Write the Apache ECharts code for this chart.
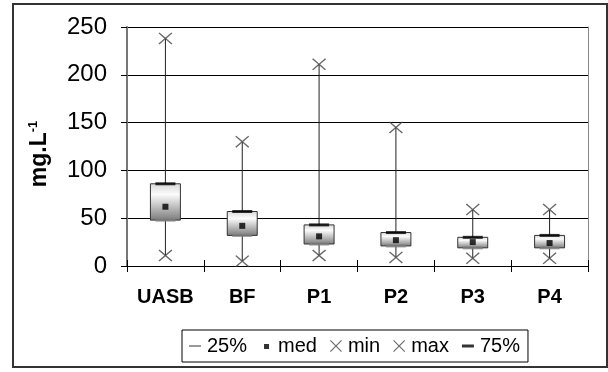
<!DOCTYPE html>
<html>
<head>
<meta charset="utf-8">
<script src="https://cdn.jsdelivr.net/npm/echarts@6/dist/echarts.min.js"></script>
<style>html,body{margin:0;padding:0;background:#fff;}#c{width:608px;height:372px;}</style>
</head>
<body>
<div id="c"></div>
<script>
var categories = ['UASB', 'BF', 'P1', 'P2', 'P3', 'P4'];
var q25 = [48, 32, 23, 21, 19, 19];
var med = [62, 42, 31, 27, 25, 24];
var mins = [11, 5, 11, 9, 8, 8];
var maxs = [238, 130, 211, 145, 59, 59];
var q75 = [86, 57, 43, 35, 30, 32];
var yTicks = [0, 50, 100, 150, 200, 250];

var FONT = 'Liberation Sans, Arial, sans-serif';
var X_PATH = 'path://M0,0.9L0.9,0L6,5.1L11.1,0L12,0.9L6.9,6L12,11.1L11.1,12L6,6.9L0.9,12L0,11.1L5.1,6Z';
function dashIcon(h) {
  var y0 = 7 - h / 2;
  return 'path://M0,0L0.01,0L0.01,0.01Z M14,14L14.01,14L14.01,14.01Z M1,' + y0 + 'L13,' + y0 + 'L13,' + (y0 + h) + 'L1,' + (y0 + h) + 'Z';
}
var SQ_ICON = 'path://M0,0L0.01,0L0.01,0.01Z M14,14L14.01,14L14.01,14.01Z M5,5L10,5L10,10L5,10Z';
var X_ICON = 'path://M0,0L0.01,0L0.01,0.01Z M14,14L14.01,14L14.01,14.01Z M1,1.8L1.8,1L7,6.2L12.2,1L13,1.8L7.8,7L13,12.2L12.2,13L7,7.8L1.8,13L1,12.2L6.2,7Z';

var boxData = categories.map(function (c, i) { return [i, q25[i], q75[i], mins[i], maxs[i]]; });

var chart = echarts.init(document.getElementById('c'), null, {renderer: 'canvas'});
chart.setOption({
  animation: false,
  backgroundColor: '#fff',
  grid: {left: 127, right: 20, top: 27, bottom: 106, containLabel: false},
  xAxis: [{
    type: 'category', data: categories, boundaryGap: true,
    axisLine: {lineStyle: {color: '#000', width: 1}},
    axisTick: {show: true, interval: 0, length: 6, lineStyle: {color: '#000'}},
    axisLabel: {interval: 0, margin: 21, color: '#000', fontFamily: FONT, fontWeight: 'bold', fontSize: 20},
    splitLine: {show: false}
  }, {
    type: 'category', data: categories, boundaryGap: true, position: 'bottom',
    axisLine: {show: false},
    axisTick: {show: true, inside: true, interval: 0, length: 6, lineStyle: {color: '#000'}},
    axisLabel: {show: false}, splitLine: {show: false}
  }],
  yAxis: [{
    type: 'value', min: 0, max: 250, interval: 50,
    axisLine: {show: true, lineStyle: {color: '#777', width: 2}},
    axisTick: {show: true, length: 6, lineStyle: {color: '#000'}},
    axisLabel: {margin: 20, color: '#000', fontFamily: FONT, fontSize: 24,
      formatter: function (v) { return yTicks.indexOf(v) >= 0 ? String(v) : ''; }},
    splitLine: {show: true, lineStyle: {color: '#000', width: 1}}
  }, {
    type: 'value', min: 0, max: 250, interval: 50, position: 'right',
    axisLine: {show: true, lineStyle: {color: '#888', width: 1}},
    axisTick: {show: false}, axisLabel: {show: false}, splitLine: {show: false}
  }],
  legend: {
    left: 182, top: 330, orient: 'horizontal',
    padding: [6, 8, 6, 6], itemGap: 12, itemWidth: 14, itemHeight: 14,
    borderColor: '#000', borderWidth: 1,
    textStyle: {fontFamily: FONT, fontSize: 20, color: '#000'},
    data: [
      {name: '25%', icon: dashIcon(2)},
      {name: 'med', icon: SQ_ICON},
      {name: 'min', icon: X_ICON},
      {name: 'max', icon: X_ICON},
      {name: '75%', icon: dashIcon(3)}
    ]
  },
  graphic: [
    {type: 'rect', shape: {x: 13, y: 4, width: 594, height: 363}, style: {fill: 'none', stroke: '#333', lineWidth: 2}, z: 100, silent: true},
    {type: 'text', x: 40, y: 154, rotation: Math.PI / 2, silent: true,
      style: {
        text: '{a|mg.L}{b|-1}', align: 'center', verticalAlign: 'middle',
        rich: {
          a: {fontFamily: FONT, fontWeight: 'bold', fontSize: 23, fill: '#000', lineHeight: 26},
          b: {fontFamily: FONT, fontWeight: 'bold', fontSize: 13, fill: '#000', verticalAlign: 'top', lineHeight: 26}
        }
      }}
  ],
  series: [
    {
      type: 'custom', name: 'box', data: boxData, z: 2,
      encode: {x: 0, y: [1, 2, 3, 4]},
      renderItem: function (params, api) {
        var i = api.value(0);
        var lo = api.coord([i, api.value(1)]);
        var hi = api.coord([i, api.value(2)]);
        var mn = api.coord([i, api.value(3)]);
        var mx = api.coord([i, api.value(4)]);
        var w = api.size([1, 0])[0] * 0.39;
        return {
          type: 'group',
          children: [
            {type: 'line', shape: {x1: mx[0], y1: mx[1], x2: mn[0], y2: mn[1]}, style: {stroke: '#222', lineWidth: 1}},
            {type: 'rect', shape: {x: lo[0] - w / 2, y: hi[1], width: w, height: lo[1] - hi[1]},
              style: {
                fill: new echarts.graphic.LinearGradient(0, 0, 0, 1, [
                  {offset: 0, color: '#d8d8d8'}, {offset: 0.3, color: '#fbfbfb'}, {offset: 1, color: '#7a7a7a'}
                ]),
                stroke: '#333', lineWidth: 1
              }}
          ]
        };
      }
    },
    {type: 'scatter', name: '25%', data: q25, symbol: 'rect', symbolSize: [20, 3], itemStyle: {color: '#7f7f7f'}, z: 3},
    {type: 'scatter', name: '75%', data: q75, symbol: 'rect', symbolSize: [20, 3], itemStyle: {color: '#000'}, z: 3},
    {type: 'scatter', name: 'med', data: med, symbol: 'rect', symbolSize: 6, itemStyle: {color: '#000'}, z: 4},
    {type: 'scatter', name: 'min', data: mins, symbol: X_PATH, symbolSize: [14, 12], itemStyle: {color: '#444'}, z: 4},
    {type: 'scatter', name: 'max', data: maxs, symbol: X_PATH, symbolSize: [14, 12], itemStyle: {color: '#444'}, z: 4}
  ]
});
</script>
</body>
</html>
